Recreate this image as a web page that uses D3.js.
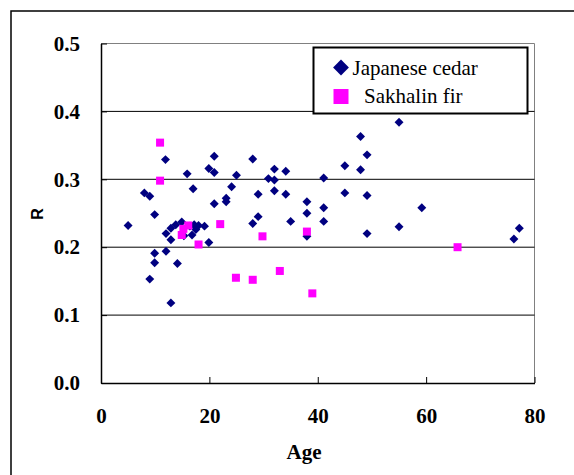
<!DOCTYPE html>
<html>
<head>
<meta charset="utf-8">
<script src="https://cdn.jsdelivr.net/npm/d3@7"></script>
<style>
  html, body { margin: 0; padding: 0; background: #fff; }
  svg { display: block; }
</style>
</head>
<body>
<svg id="chart" width="574" height="475"></svg>
<script>
// Age (years) and R for each sampled tree
const cedarAge = [5.0, 8.0, 9.0, 11.9, 9.9, 12.0, 12.9, 12.9, 9.9, 12.0, 9.9, 14.1, 9.0, 12.9,
  15.9, 17.0, 20.9, 19.9, 20.9, 25.0, 24.1, 20.9, 23.1, 23.1, 28.0, 29.0, 30.9, 32.0, 32.0, 32.0,
  34.1, 34.1, 35.0, 38.0, 38.0, 38.0, 41.1, 41.1, 41.1, 45.0, 45.0, 47.9, 47.9, 49.1, 49.1, 49.1,
  55.0, 55.0, 59.2, 77.2, 76.2, 29.0, 28.0, 19.9, 13.8, 14.9, 15.3, 16.4, 16.8, 17.2, 17.5, 18.0, 19.1];
const cedarR = [0.232, 0.280, 0.275, 0.329, 0.248, 0.220, 0.228, 0.211, 0.191, 0.194, 0.177, 0.176, 0.153, 0.118,
  0.308, 0.286, 0.334, 0.316, 0.310, 0.306, 0.289, 0.264, 0.272, 0.267, 0.330, 0.278, 0.301, 0.315, 0.299, 0.283,
  0.312, 0.278, 0.238, 0.267, 0.250, 0.216, 0.302, 0.258, 0.238, 0.320, 0.280, 0.363, 0.314, 0.336, 0.276, 0.220,
  0.384, 0.230, 0.258, 0.228, 0.212, 0.245, 0.235, 0.207, 0.233, 0.237, 0.217, 0.231, 0.218, 0.233, 0.226, 0.232, 0.231];

const firAge = [15.2, 16.1, 14.9, 18.0, 22.0, 29.8, 38.0, 65.8, 33.0, 39.0, 24.9, 28.0, 10.9, 10.9];
const firR = [0.227, 0.232, 0.218, 0.204, 0.234, 0.216, 0.223, 0.200, 0.165, 0.132, 0.155, 0.152, 0.354, 0.298];

const xTicks = [0, 20, 40, 60, 80];
const yTicks = [0.0, 0.1, 0.2, 0.3, 0.4, 0.5];
const seriesNames = ["Japanese cedar", "Sakhalin fir"];
const seriesColors = ["#000080", "#ff00ff"];

const SERIF = '"Liberation Serif", "Times New Roman", Times, serif';
const SANS = '"Liberation Sans", Arial, Helvetica, sans-serif';

const svg = d3.select("#chart");

// chart frame
svg.append("rect")
  .attr("x", 11).attr("y", 11).attr("width", 600).attr("height", 500)
  .attr("fill", "#fff").attr("stroke", "#000").attr("stroke-width", 1.5);

const plot = { left: 101, right: 534.5, top: 43.5, bottom: 383 };
const x = d3.scaleLinear().domain([0, 80]).range([plot.left, plot.right]);
const y = d3.scaleLinear().domain([0, 0.5]).range([plot.bottom, plot.top]);

// plot area border (top and right)
svg.append("path")
  .attr("d", `M${plot.left},${plot.top}H${plot.right}V${plot.bottom}`)
  .attr("fill", "none").attr("stroke", "#808080").attr("stroke-width", 1);

// horizontal gridlines
svg.append("g").selectAll("line")
  .data(yTicks.filter(v => v > 0 && v < 0.5))
  .join("line")
  .attr("x1", plot.left).attr("x2", plot.right)
  .attr("y1", d => y(d)).attr("y2", d => y(d))
  .attr("stroke", "#000").attr("stroke-width", 1);

// axes with inward ticks
const xAxis = svg.append("g")
  .attr("transform", `translate(0,${plot.bottom})`)
  .call(d3.axisBottom(x).tickValues(xTicks).tickSizeInner(-6).tickSizeOuter(0).tickFormat(d3.format("d")));
xAxis.select(".domain").attr("stroke", "#000").attr("stroke-width", 1.5);
xAxis.selectAll(".tick line").attr("stroke", "#000");
xAxis.selectAll("text")
  .attr("y", 33).attr("dy", "0.32em")
  .style("font-family", SERIF).style("font-weight", "bold").style("font-size", "21px")
  .attr("fill", "#000");

const yAxis = svg.append("g")
  .attr("transform", `translate(${plot.left},0)`)
  .call(d3.axisLeft(y).tickValues(yTicks).tickSizeInner(-6).tickSizeOuter(0).tickFormat(d3.format(".1f")));
yAxis.select(".domain").attr("stroke", "#000").attr("stroke-width", 1.5);
yAxis.selectAll(".tick line").attr("stroke", "#000");
yAxis.selectAll("text")
  .attr("x", -21)
  .style("font-family", SERIF).style("font-weight", "bold").style("font-size", "21px")
  .attr("fill", "#000");

// axis titles
svg.append("text")
  .attr("x", 304).attr("y", 452).attr("dy", "0.32em")
  .attr("text-anchor", "middle")
  .style("font-family", SERIF).style("font-weight", "bold").style("font-size", "21px")
  .text("Age");
svg.append("text")
  .attr("transform", "translate(37,214) rotate(-90)")
  .attr("dy", "0.35em").attr("text-anchor", "middle")
  .style("font-family", SANS).style("font-weight", "bold").style("font-size", "16px")
  .text("R");

// markers
const diamond = (size) => d3.symbol(d3.symbolSquare, size);
const cedar = cedarAge.map((a, i) => ({ age: a, r: cedarR[i] }));
const fir = firAge.map((a, i) => ({ age: a, r: firR[i] }));

svg.append("g").selectAll("path")
  .data(cedar)
  .join("path")
  .attr("d", diamond(40)())
  .attr("transform", d => `translate(${x(d.age)},${y(d.r)}) rotate(45)`)
  .attr("fill", seriesColors[0]);

svg.append("g").selectAll("rect")
  .data(fir)
  .join("rect")
  .attr("x", d => x(d.age) - 4).attr("y", d => y(d.r) - 4)
  .attr("width", 8).attr("height", 8)
  .attr("fill", seriesColors[1]);

// legend
const legend = svg.append("g");
legend.append("rect")
  .attr("x", 313.5).attr("y", 47.5).attr("width", 214).attr("height", 66)
  .attr("fill", "#fff").attr("stroke", "#000").attr("stroke-width", 2);
legend.append("path")
  .attr("d", diamond(125)())
  .attr("transform", "translate(341,67.5) rotate(45)")
  .attr("fill", seriesColors[0]);
legend.append("rect")
  .attr("x", 333.5).attr("y", 89).attr("width", 15).attr("height", 15)
  .attr("fill", seriesColors[1]);
legend.append("text")
  .attr("x", 352.5).attr("y", 75)
  .style("font-family", SERIF).style("font-size", "21px")
  .text(seriesNames[0]);
legend.append("text")
  .attr("x", 364).attr("y", 103)
  .style("font-family", SERIF).style("font-size", "21px")
  .text(seriesNames[1]);
</script>
</body>
</html>
